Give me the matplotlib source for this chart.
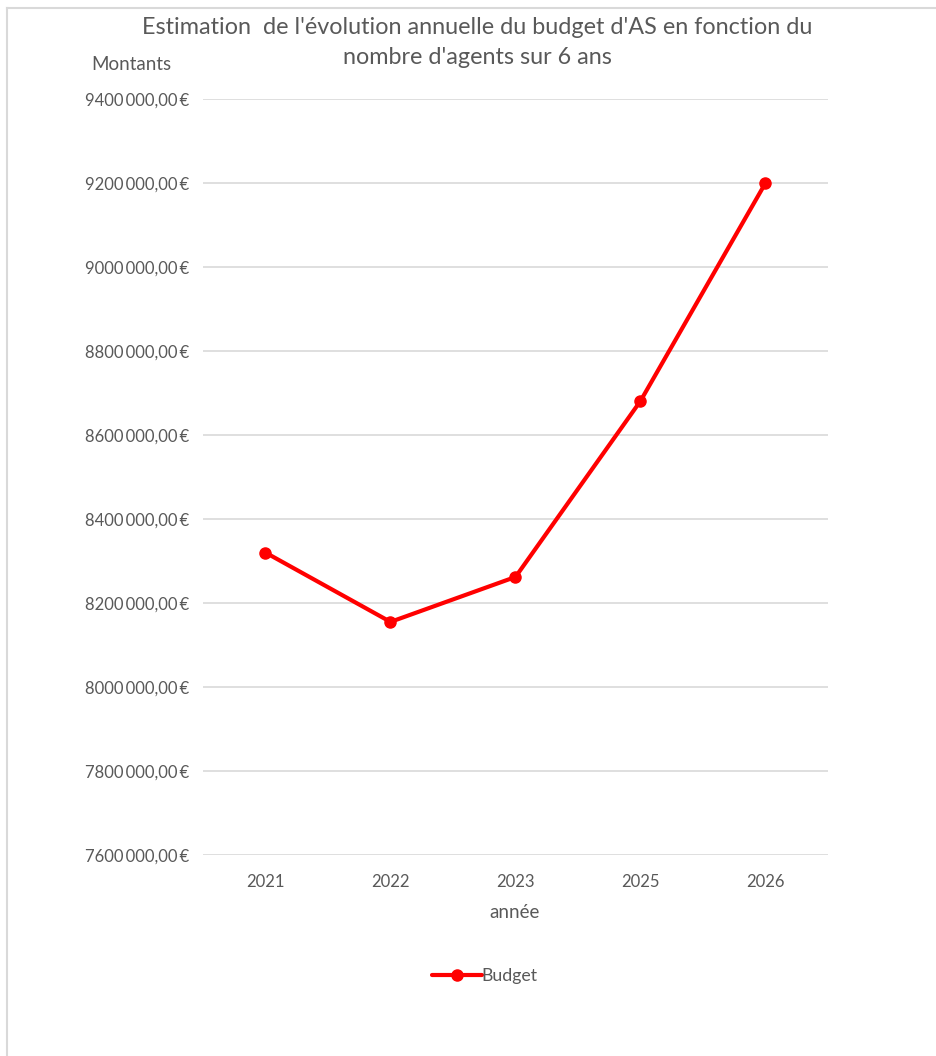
import matplotlib
matplotlib.use("Agg")
import matplotlib.pyplot as plt
from matplotlib.lines import Line2D
from matplotlib.ticker import FixedLocator, FuncFormatter

plt.rcParams['font.family'] = ['Lato', 'DejaVu Sans']

years = ['2021', '2022', '2023', '2025', '2026']
budget = [8320000, 8155000, 8262000, 8681000, 9200000]
y_ticks = [7600000, 7800000, 8000000, 8200000, 8400000, 8600000, 8800000, 9000000, 9200000, 9400000]
title_lines = ["Estimation  de l'évolution annuelle du budget d'AS en fonction du",
               "nombre d'agents sur 6 ans"]
y_label = "Montants"
x_label = "année"
series_name = "Budget"

W, H = 937, 1056
fig = plt.figure(figsize=(W / 100, H / 100), dpi=100)
ax = fig.add_axes([203 / W, 1 - 855 / H, (828 - 203) / W, (855 - 99) / H])

x = list(range(len(years)))
ax.plot(x, budget, color='#ff0000', lw=3.0, marker='o', markersize=8,
        solid_capstyle='round', label=series_name, zorder=3)

ax.set_xlim(-0.5, len(years) - 0.5)
ax.set_ylim(y_ticks[0], y_ticks[-1])
ax.yaxis.set_major_locator(FixedLocator(y_ticks))
ax.set_xticks(x)
ax.set_xticklabels(years)

def fmt(v, pos):
    v = int(round(v))
    return f"{v // 1000}\u2009{v % 1000:03d},00\u2009€"

ax.yaxis.set_major_formatter(FuncFormatter(fmt))
ax.grid(axis='y', color='#d9d9d9', lw=1.2)
ax.set_axisbelow(True)
for s in ax.spines.values():
    s.set_visible(False)
ax.tick_params(axis='both', length=0, colors='#595959', labelsize=12)
ax.tick_params(axis='y', pad=10)
ax.tick_params(axis='x', pad=14)

fig.text(477 / W, 1 - 28 / H, title_lines[0], ha='center', va='center', fontsize=16.8,
         color='#595959')
fig.text(477 / W, 1 - 58 / H, title_lines[1], ha='center', va='center', fontsize=16.8,
         color='#595959')
fig.text(131 / W, 1 - 65 / H, y_label, ha='center', va='center', fontsize=13.5, color='#595959')
fig.text(515 / W, 1 - 912 / H, x_label, ha='center', va='center', fontsize=13.5, color='#595959')

fig.legend(loc='center', bbox_to_anchor=(485 / W, 1 - 976 / H), frameon=False,
           fontsize=12.8, labelcolor='#595959', handlelength=2.8, handletextpad=0.0)

border = '#d9d9d9'
fig.add_artist(Line2D([7 / W, 7 / W], [0, 1 - 8 / H], color=border, lw=1.5, transform=fig.transFigure))
fig.add_artist(Line2D([7 / W, 1], [1 - 8 / H, 1 - 8 / H], color=border, lw=1.5, transform=fig.transFigure))

fig.savefig('out.png', dpi=100)
